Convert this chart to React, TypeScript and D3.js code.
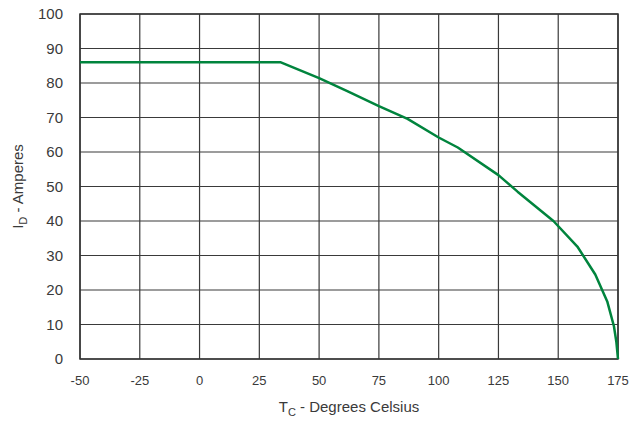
import React, { useEffect, useRef } from "react";
import * as d3 from "d3";

// case temperature (deg C) vs max drain current (A)
const tempC = [-50, 34, 50, 62, 75, 87, 100, 108, 125, 133, 148, 158, 165.5, 170.5, 173.3, 174.3, 175];
const currentA = [86, 86, 81.4, 77.6, 73.3, 69.6, 64.2, 61.3, 53.3, 48.5, 40, 32.6, 24.5, 16.7, 9.5, 5, 0];

const xTicks = [-50, -25, 0, 25, 50, 75, 100, 125, 150, 175];
const yTicks = [0, 10, 20, 30, 40, 50, 60, 70, 80, 90, 100];

const W = 631;
const H = 423;
const margin = { top: 14, right: 13, bottom: 64, left: 80 };

const App = () => {
  const ref = useRef<SVGSVGElement>(null);

  useEffect(() => {
    const svg = d3.select(ref.current);
    svg.selectAll("*").remove();

    const x = d3
      .scaleLinear()
      .domain([-50, 175])
      .range([margin.left, W - margin.right]);
    const y = d3
      .scaleLinear()
      .domain([0, 100])
      .range([H - margin.bottom, margin.top]);

    const font = "Arial, 'Liberation Sans', sans-serif";

    // grid
    const grid = svg.append("g").attr("stroke", "#3a3a3a").attr("stroke-width", 1.2);
    grid
      .selectAll("line.v")
      .data(xTicks)
      .enter()
      .append("line")
      .attr("x1", (d) => x(d))
      .attr("x2", (d) => x(d))
      .attr("y1", y(0))
      .attr("y2", y(100));
    grid
      .selectAll("line.h")
      .data(yTicks)
      .enter()
      .append("line")
      .attr("x1", x(-50))
      .attr("x2", x(175))
      .attr("y1", (d) => y(d))
      .attr("y2", (d) => y(d));

    // frame
    svg
      .append("rect")
      .attr("x", x(-50))
      .attr("y", y(100))
      .attr("width", x(175) - x(-50))
      .attr("height", y(0) - y(100))
      .attr("fill", "none")
      .attr("stroke", "#333")
      .attr("stroke-width", 1.5);

    // curve
    const pts = tempC.map((t, i) => [t, currentA[i]] as [number, number]);
    const line = d3
      .line<[number, number]>()
      .x((d) => x(d[0]))
      .y((d) => y(d[1]));
    svg
      .append("path")
      .attr("d", line(pts))
      .attr("fill", "none")
      .attr("stroke", "#00843d")
      .attr("stroke-width", 2.5)
      .attr("stroke-linejoin", "round");

    // tick labels
    svg
      .selectAll("text.xt")
      .data(xTicks)
      .enter()
      .append("text")
      .attr("x", (d) => x(d))
      .attr("y", y(0) + 26)
      .attr("text-anchor", "middle")
      .attr("font-family", font)
      .attr("font-size", 13)
      .attr("fill", "#3a3a3a")
      .text((d) => d);
    svg
      .selectAll("text.yt")
      .data(yTicks)
      .enter()
      .append("text")
      .attr("x", margin.left - 17)
      .attr("y", (d) => y(d) + 5)
      .attr("text-anchor", "end")
      .attr("font-family", font)
      .attr("font-size", 15)
      .attr("fill", "#3a3a3a")
      .text((d) => d);

    // axis titles
    const xt = svg
      .append("text")
      .attr("x", (x(-50) + x(175)) / 2)
      .attr("y", 412)
      .attr("text-anchor", "middle")
      .attr("font-family", font)
      .attr("font-size", 15)
      .attr("fill", "#3a3a3a");
    xt.append("tspan").text("T");
    xt.append("tspan").attr("font-size", 11).attr("dy", 4).text("C");
    xt.append("tspan").attr("dy", -4).text(" - Degrees Celsius");

    const yt = svg
      .append("text")
      .attr("transform", `translate(23, ${(y(0) + y(100)) / 2}) rotate(-90)`)
      .attr("text-anchor", "middle")
      .attr("font-family", font)
      .attr("font-size", 15)
      .attr("fill", "#3a3a3a");
    yt.append("tspan").text("I");
    yt.append("tspan").attr("font-size", 11).attr("dy", 4).text("D");
    yt.append("tspan").attr("dy", -4).text(" - Amperes");
  }, []);

  return (
    <div style={{ position: "absolute", left: 0, top: 0 }}>
      <svg ref={ref} width={W} height={H} style={{ display: "block", background: "#fff" }}></svg>
    </div>
  );
};

export default App;
